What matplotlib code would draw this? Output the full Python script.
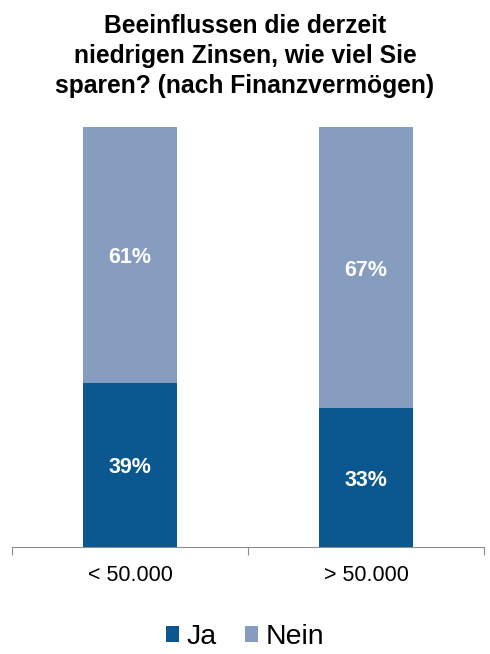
import matplotlib
matplotlib.use('Agg')
import matplotlib.pyplot as plt
import numpy as np

categories = ['< 50.000', '> 50.000']
ja = [39, 33]
nein = [61, 67]

plt.rcParams['font.family'] = ['Liberation Sans', 'DejaVu Sans']

fig = plt.figure(figsize=(4.9, 6.54), dpi=100)
ax = fig.add_axes([12 / 490, 1 - 547 / 654, 472 / 490, 420 / 654])

x = np.arange(len(categories))
dark = '#0b5790'
light = '#879dc0'
b1 = ax.bar(x, ja, width=0.4, color=dark, label='Ja')
b2 = ax.bar(x, nein, width=0.4, bottom=ja, color=light, label='Nein')

for i in range(len(categories)):
    ax.text(x[i], ja[i] / 2, f'{ja[i]}%', ha='center', va='center_baseline',
            color='white', fontsize=15.5, fontweight='bold')
    ax.text(x[i], ja[i] + nein[i] / 2, f'{nein[i]}%', ha='center', va='center_baseline',
            color='white', fontsize=15.5, fontweight='bold')

ax.set_xlim(-0.5, 1.5)
ax.set_ylim(0, 100)
ax.set_yticks([])
for s in ['top', 'left', 'right']:
    ax.spines[s].set_visible(False)
ax.spines['bottom'].set_color('#8c8c8c')
ax.set_xticks([-0.5, 0.5, 1.5])
ax.set_xticklabels([])
ax.set_xticks(x, minor=True)
ax.set_xticklabels(categories, minor=True, fontsize=15.5)
ax.tick_params(axis='x', which='major', length=6, color='#8c8c8c', direction='out')
ax.tick_params(axis='x', which='minor', length=0, pad=13)

fig.text(0.5, 1 - 56 / 654, 'Beeinflussen die derzeit\nniedrigen Zinsen, wie viel Sie\nsparen? (nach Finanzvermögen)',
         ha='center', va='center', fontsize=17.7, fontweight='bold', linespacing=1.3)

fig.legend(handles=[b1, b2], labels=['Ja', 'Nein'], loc='center', bbox_to_anchor=(0.5, 1 - 637 / 654),
           ncol=2, frameon=False, fontsize=20.5, handlelength=0.46, handleheight=0.46,
           handletextpad=0.25, columnspacing=1.0)

fig.savefig('out.png', dpi=100)
